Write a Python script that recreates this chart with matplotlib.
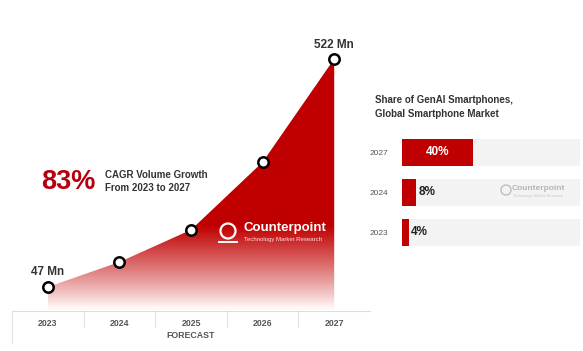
import numpy as np
import matplotlib
matplotlib.use("Agg")
import matplotlib.pyplot as plt
from matplotlib.colors import to_rgb
from matplotlib.patches import Ellipse

# ---------------- data ----------------
years = [2023, 2024, 2025, 2026, 2027]
volumes = [47, 99, 166, 307, 522]          # GenAI smartphone shipments (Mn)
volume_labels = ["47 Mn", "522 Mn"]
cagr_text = "83%"
share_years = ["2023", "2024", "2027"]
share_values = [4, 8, 40]                  # % share
share_labels = ["4%", "8%", "40%"]

W, H = 583, 351
fig = plt.figure(figsize=(W / 100, H / 100), dpi=100)
fig.patch.set_facecolor("white")
plt.rcParams["font.family"] = ["Liberation Sans", "DejaVu Sans"]

def fx(px):
    return px / W

def fy(py):
    return 1 - py / H

def ring(cx, cy, r, color, lw):
    fig.add_artist(Ellipse((fx(cx), fy(cy)), 2 * r / W, 2 * r / H,
                           transform=fig.transFigure, fill=False,
                           ec=color, lw=lw))

RED = "#c00000"
DARK = "#333333"

# ---------------- left area chart ----------------
ax = fig.add_axes([fx(12), fy(311), fx(370) - fx(12), fy(20) - fy(311)])
ax.set_xlim(2022.5, 2027.5)
ax.set_ylim(-3, 603)
for s in ["top", "left", "right"]:
    ax.spines[s].set_visible(False)
ax.spines["bottom"].set_color("#dddddd")
ax.spines["bottom"].set_linewidth(0.8)
ax.set_yticks([])
ax.set_xticks(years)
ax.set_xticklabels([str(y) for y in years], fontsize=6.3, color="#555555",
                   fontweight="bold")
ax.tick_params(axis="x", length=0, pad=6)
ax.patch.set_alpha(0)

# gradient fill clipped to area
poly = ax.fill_between(years, 0, volumes, color="none", lw=0)
ny = 300
vals = np.linspace(0, max(volumes), ny)
t = np.clip((vals - 5) / 170.0, 0, 1) ** 0.9
red = np.array(to_rgb(RED))
white = np.array([1.0, 0.97, 0.97])
cols = white[None, :] * (1 - t[:, None]) + red[None, :] * t[:, None]
img = np.repeat(cols[:, None, :], 2, axis=1)
im = ax.imshow(img, extent=(years[0], years[-1], 0, max(volumes)),
               origin="lower", aspect="auto", zorder=1)
path = poly.get_paths()[0]
im.set_clip_path(path, transform=ax.transData)

ax.plot(years, volumes, ls="none", marker="o", ms=7.5, mfc="white",
        mec="black", mew=1.8, zorder=5)

ax.annotate(volume_labels[0], (years[0], volumes[0]), xytext=(0, 6.5),
            textcoords="offset points", ha="center", va="bottom",
            fontsize=8.5, fontweight="bold", color=DARK)
ax.annotate(volume_labels[1], (years[-1], volumes[-1]), xytext=(0, 6),
            textcoords="offset points", ha="center", va="bottom",
            fontsize=8.5, fontweight="bold", color=DARK)

# table separators below the area
for xs in [2023.5, 2024.5, 2025.5, 2026.5]:
    ax.plot([xs, xs], [0, -0.055], transform=ax.get_xaxis_transform(),
            color="#e3e3e3", lw=0.8, clip_on=False)
ax.plot([2022.5, 2022.5], [0, -0.11], transform=ax.get_xaxis_transform(),
        color="#e3e3e3", lw=0.8, clip_on=False)

fig.text(fx(191), fy(336), "FORECAST", ha="center", va="center",
         fontsize=6.3, fontweight="bold", color="#555555")

# CAGR annotation
fig.text(fx(41), fy(182), cagr_text, ha="left", va="center", fontsize=19.5,
         fontweight="bold", color="#b5000f")
fig.text(fx(105), fy(175), "CAGR Volume Growth", ha="left", va="center",
         fontsize=7, fontweight="bold", color=DARK)
fig.text(fx(105), fy(188), "From 2023 to 2027", ha="left", va="center",
         fontsize=7, fontweight="bold", color=DARK)

# Counterpoint watermark (center)
fig.text(fx(243), fy(228), "Counterpoint", ha="left", va="center",
         fontsize=9.5, fontweight="bold", color="white")
fig.text(fx(244), fy(240), "Technology Market Research", ha="left",
         va="center", fontsize=4.3, color="#ffdede")
ring(228, 231, 7.5, "white", 1.6)
fig.add_artist(plt.Line2D([fx(219), fx(237)], [fy(242), fy(242)],
                          transform=fig.transFigure, color="white", lw=1.4))

# ---------------- right bar chart ----------------
fig.text(fx(375), fy(100), "Share of GenAI Smartphones,", ha="left",
         va="center", fontsize=7, fontweight="bold", color=DARK)
fig.text(fx(375), fy(114), "Global Smartphone Market", ha="left",
         va="center", fontsize=7, fontweight="bold", color=DARK)

bx = fig.add_axes([fx(402), fy(255), fx(580) - fx(402), fy(130) - fy(255)])
bx.set_xlim(0, 100)
bx.set_ylim(-0.575, 2.5625)
pos = np.arange(len(share_years))
bx.barh(pos, [100] * len(pos), height=0.675, color="#f3f3f3", zorder=1)
bx.barh(pos, share_values, height=0.675, color=RED, zorder=2)
for s in bx.spines.values():
    s.set_visible(False)
bx.set_xticks([])
bx.set_yticks(pos)
bx.set_yticklabels(share_years, fontsize=6, color="#555555")
bx.tick_params(axis="y", length=0, pad=10)
bx.patch.set_alpha(0)

for p, v, lab in zip(pos, share_values, share_labels):
    if v >= 20:
        bx.text(v / 2, p, lab, ha="center", va="center", fontsize=8.5,
                fontweight="bold", color="white", zorder=3)
    else:
        bx.annotate(lab, (v, p), xytext=(1.5, 0), textcoords="offset points",
                    ha="left", va="center", fontsize=8.5,
                    fontweight="bold", color="#222222", zorder=3)

fig.text(fx(512), fy(188), "Counterpoint", ha="left", va="center",
         fontsize=6, fontweight="bold", color="#b5b5b5")
fig.text(fx(513), fy(196), "Technology Market Research", ha="left",
         va="center", fontsize=2.8, color="#c8c8c8")
ring(506, 190, 5, "#bdbdbd", 1.0)

fig.savefig("out.png", dpi=100, facecolor="white")
